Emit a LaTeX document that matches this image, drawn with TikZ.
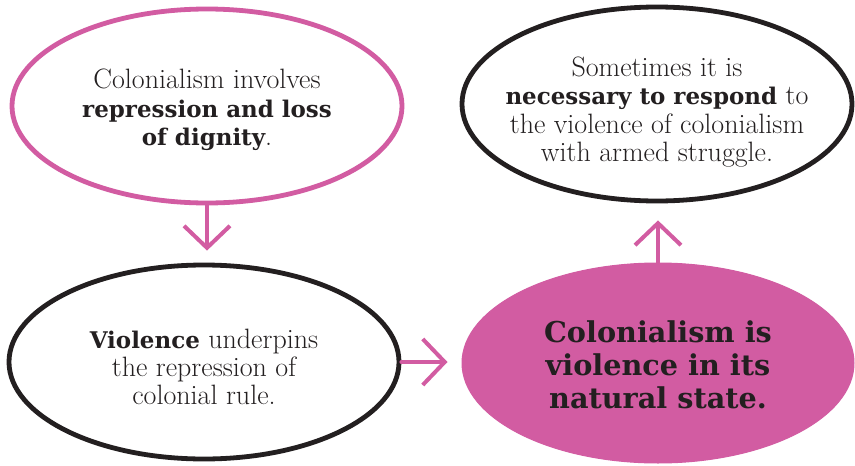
\documentclass[tikz,border=0pt]{standalone}
\usepackage{fontspec}
\newfontfamily\slabfont{DejaVu Serif}[Scale=0.82]
\newcommand\slabbold[1]{{\slabfont\bfseries #1}}
\usetikzlibrary{shapes.geometric,arrows.meta}
\definecolor{pinkc}{RGB}{210,92,162}
\definecolor{inkc}{RGB}{35,31,32}
\tikzset{
  bubble/.style={ellipse, draw=inkc, line width=4.8pt, inner sep=0pt,
    minimum width=390pt, minimum height=194pt},
  pinkbubble/.style={bubble, draw=pinkc},
  keybubble/.style={bubble, fill=pinkc, draw=pinkc, line width=1pt},
  bubbletext/.style={align=center, text=inkc, inner sep=0pt,
    font=\fontsize{28}{28.3}\selectfont},
  keytext/.style={bubbletext, font=\fontsize{35}{33}\selectfont\slabfont\bfseries},
  link/.style={draw=pinkc, line width=4pt, line cap=round, line join=round,
    -{Straight Barb[length=22pt,width=46pt,line width=4pt]}}
}
\begin{document}
\begin{tikzpicture}[x=1pt,y=-1pt]
\fill[white] (0,0) rectangle (855,466);
\useasboundingbox (0,0) rectangle (855,466);
\node[pinkbubble] (a) at (207,106) {};
\node[bubble] (b) at (204,362) {};
\node[keybubble, minimum width=392pt, minimum height=200pt] (c) at (658,363) {};
\node[bubble] (d) at (657,104) {};
\node[bubbletext] (at) at ([yshift=-4pt]a.center) {Colonialism involves\\\slabbold{repression and loss}\\\slabbold{of dignity}.};
\node[bubbletext] (bt) at ([yshift=-5pt]b.center) {\slabbold{Violence} underpins\\the repression of\\colonial rule.};
\node[keytext] (ct) at ([yshift=-2pt]c.center) {Colonialism is\\violence in its\\natural state.};
\node[bubbletext] (dt) at ([yshift=-8pt]d.center) {Sometimes it is\\\slabbold{necessary to respond} to\\the violence of colonialism\\with armed struggle.};
\draw[link, shorten >=12pt] (a.south) -- (a.south |- b.north);
\draw[link, shorten >=14pt] (b.east) -- (c.west |- b.east);
\draw[link, shorten >=17pt] (c.north) -- (c.north |- d.south);
\end{tikzpicture}
\end{document}
